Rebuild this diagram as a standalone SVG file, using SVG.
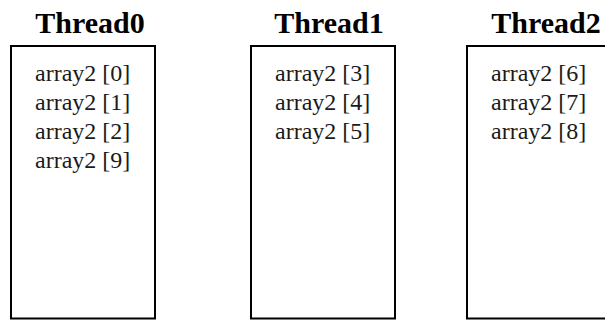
<svg xmlns="http://www.w3.org/2000/svg" width="605" height="320" viewBox="0 0 605 320">
<style>
.box{fill:#fff;stroke:#000;stroke-width:2}
.title{font-family:"Liberation Serif","Times New Roman",serif;font-weight:bold;font-size:30px;fill:#000;text-anchor:middle}
.item{font-family:"Liberation Serif","Times New Roman",serif;font-size:24px;fill:#1a1a1a}
</style>
<rect width="605" height="320" fill="#fff"/>
<g id="thread0">
<text class="title" x="90" y="32.5">Thread0</text>
<rect class="box" x="11" y="46" width="144" height="272.5"/>
<text class="item" x="35" y="81">array2 [0]</text>
<text class="item" x="35" y="110">array2 [1]</text>
<text class="item" x="35" y="139">array2 [2]</text>
<text class="item" x="35" y="168">array2 [9]</text>
</g>
<g id="thread1">
<text class="title" x="329" y="32.5">Thread1</text>
<rect class="box" x="251" y="46" width="144" height="272.5"/>
<text class="item" x="275" y="81">array2 [3]</text>
<text class="item" x="275" y="110">array2 [4]</text>
<text class="item" x="275" y="139">array2 [5]</text>
</g>
<g id="thread2">
<text class="title" x="546" y="32.5">Thread2</text>
<rect class="box" x="467" y="46" width="144" height="272.5"/>
<text class="item" x="491" y="81">array2 [6]</text>
<text class="item" x="491" y="110">array2 [7]</text>
<text class="item" x="491" y="139">array2 [8]</text>
</g>
<g id="connectors"></g>
</svg>
